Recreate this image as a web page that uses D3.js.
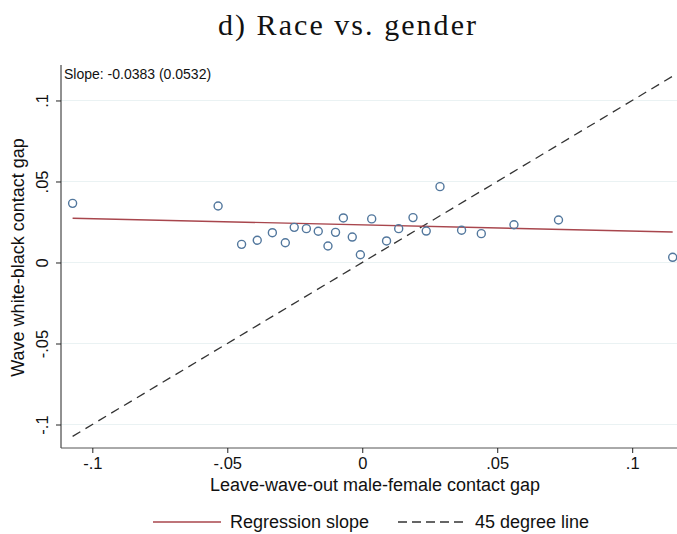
<!DOCTYPE html>
<html>
<head>
<meta charset="utf-8">
<script src="https://cdn.jsdelivr.net/npm/d3@7"></script>
<style>
  body { margin: 0; background: #fff; }
  svg { display: block; }
</style>
</head>
<body>
<svg id="chart" width="677" height="534"></svg>
<script>
// binned points
const gapX = [-0.1073, -0.0534, -0.0447, -0.0389, -0.0333, -0.0285, -0.0252, -0.0207,
  -0.0163, -0.0127, -0.0099, -0.0070, -0.0037, -0.0007, 0.0035, 0.0090, 0.0135,
  0.0188, 0.0237, 0.0288, 0.0368, 0.0441, 0.0562, 0.0727, 0.1150];
const gapY = [0.0365, 0.0349, 0.0112, 0.0137, 0.0184, 0.0122, 0.0217, 0.0209,
  0.0193, 0.0102, 0.0186, 0.0275, 0.0157, 0.0048, 0.0269, 0.0133, 0.0209,
  0.0277, 0.0194, 0.0468, 0.0199, 0.0178, 0.0233, 0.0262, 0.0032];

const xTicks = [-0.1, -0.05, 0, 0.05, 0.1];
const yTicks = [-0.1, -0.05, 0, 0.05, 0.1];
const tickLabels = {"-0.1": "-.1", "-0.05": "-.05", "0": "0", "0.05": ".05", "0.1": ".1"};

const slope = -0.0383, slopeSE = 0.0532;
const regIntercept = 0.02321; // fitted line intercept
const legendItems = ["Regression slope", "45 degree line"];

const svg = d3.select("#chart"),
    width = +svg.attr("width"),
    height = +svg.attr("height");

const margin = {top: 65, right: 0, bottom: 86, left: 61};
const sans = "'Liberation Sans', Arial, sans-serif";

const x = d3.scaleLinear()
    .domain([-0.1116, 0.1166])
    .range([margin.left, width - margin.right]);
const y = d3.scaleLinear()
    .domain([-0.1145, 0.1219])
    .range([height - margin.bottom, margin.top]);

const data = gapX.map((d, i) => ({x: d, y: gapY[i]}));
const xMin = d3.min(gapX), xMax = d3.max(gapX);

// title
svg.append("text")
    .attr("x", 218).attr("y", 35)
    .attr("font-family", "'Liberation Serif', 'DejaVu Serif', serif")
    .attr("font-size", 30)
    .attr("textLength", 258)
    .attr("lengthAdjust", "spacing")
    .attr("fill", "#111")
    .text("d) Race vs. gender");

// grid lines
svg.append("g").selectAll("line")
  .data(yTicks)
  .enter().append("line")
    .attr("x1", margin.left).attr("x2", width - margin.right)
    .attr("y1", d => y(d)).attr("y2", d => y(d))
    .attr("stroke", "#eaf2f3")
    .attr("stroke-width", 1.2);

// y axis
const yAxis = svg.append("g")
    .attr("transform", "translate(" + margin.left + ",0)")
    .call(d3.axisLeft(y).tickValues(yTicks).tickSize(5)
      .tickFormat(d => tickLabels[String(d)]));
yAxis.select(".domain").attr("d", "M0," + margin.top + "V" + (height - margin.bottom)).attr("stroke", "#222");
yAxis.selectAll(".tick line").attr("stroke", "#222");
yAxis.selectAll(".tick text")
    .attr("font-family", sans)
    .attr("font-size", 16.5)
    .attr("fill", "#111")
    .attr("transform", "rotate(-90)")
    .attr("x", 0).attr("y", -13)
    .attr("dy", 0)
    .attr("text-anchor", "middle");

svg.append("text")
    .attr("transform", "translate(24," + ((margin.top + height - margin.bottom) / 2 + 1) + ") rotate(-90)")
    .attr("text-anchor", "middle")
    .attr("font-family", sans)
    .attr("font-size", 18)
    .attr("fill", "#111")
    .text("Wave white-black contact gap");

// x axis
const xAxis = svg.append("g")
    .attr("transform", "translate(0," + (height - margin.bottom) + ")")
    .call(d3.axisBottom(x).tickValues(xTicks).tickSize(5).tickPadding(4)
      .tickFormat(d => tickLabels[String(d)]));
xAxis.select(".domain").attr("d", "M" + margin.left + ",0H" + (width - margin.right)).attr("stroke", "#555");
xAxis.selectAll(".tick line").attr("stroke", "#222");
xAxis.selectAll(".tick text")
    .attr("font-family", sans)
    .attr("font-size", 16.5)
    .attr("fill", "#111");

svg.append("text")
    .attr("x", 375)
    .attr("y", 491)
    .attr("text-anchor", "middle")
    .attr("font-family", sans)
    .attr("font-size", 18)
    .attr("fill", "#111")
    .text("Leave-wave-out male-female contact gap");

// 45 degree line
svg.append("line")
    .attr("x1", x(xMin)).attr("y1", y(xMin))
    .attr("x2", x(xMax)).attr("y2", y(xMax))
    .attr("stroke", "#333")
    .attr("stroke-width", 1.3)
    .attr("stroke-dasharray", "9,6");

// regression line
svg.append("line")
    .attr("x1", x(xMin)).attr("y1", y(regIntercept + slope * xMin))
    .attr("x2", x(xMax)).attr("y2", y(regIntercept + slope * xMax))
    .attr("stroke", "#a8464d")
    .attr("stroke-width", 1.4);

// points
svg.append("g").selectAll("circle")
  .data(data)
  .enter().append("circle")
    .attr("cx", d => x(d.x))
    .attr("cy", d => y(d.y))
    .attr("r", 4)
    .attr("fill", "none")
    .attr("stroke", "#52779d")
    .attr("stroke-width", 1.4);

// slope note
svg.append("text")
    .attr("x", 64).attr("y", 79)
    .attr("font-family", sans)
    .attr("font-size", 14)
    .attr("fill", "#111")
    .text("Slope: " + slope.toFixed(4) + " (" + slopeSE.toFixed(4) + ")");

// legend
const legend = svg.append("g").attr("transform", "translate(0,522)");
legend.append("line")
    .attr("x1", 153).attr("x2", 221).attr("y1", 0).attr("y2", 0)
    .attr("stroke", "#a8464d").attr("stroke-width", 1.4);
legend.append("text")
    .attr("x", 230).attr("y", 6)
    .attr("font-family", sans)
    .attr("font-size", 18).attr("fill", "#111")
    .text(legendItems[0]);
legend.append("line")
    .attr("x1", 398).attr("x2", 464).attr("y1", 0).attr("y2", 0)
    .attr("stroke", "#333").attr("stroke-width", 1.3)
    .attr("stroke-dasharray", "9,5");
legend.append("text")
    .attr("x", 475).attr("y", 6)
    .attr("font-family", sans)
    .attr("font-size", 18).attr("fill", "#111")
    .text(legendItems[1]);
</script>
</body>
</html>
